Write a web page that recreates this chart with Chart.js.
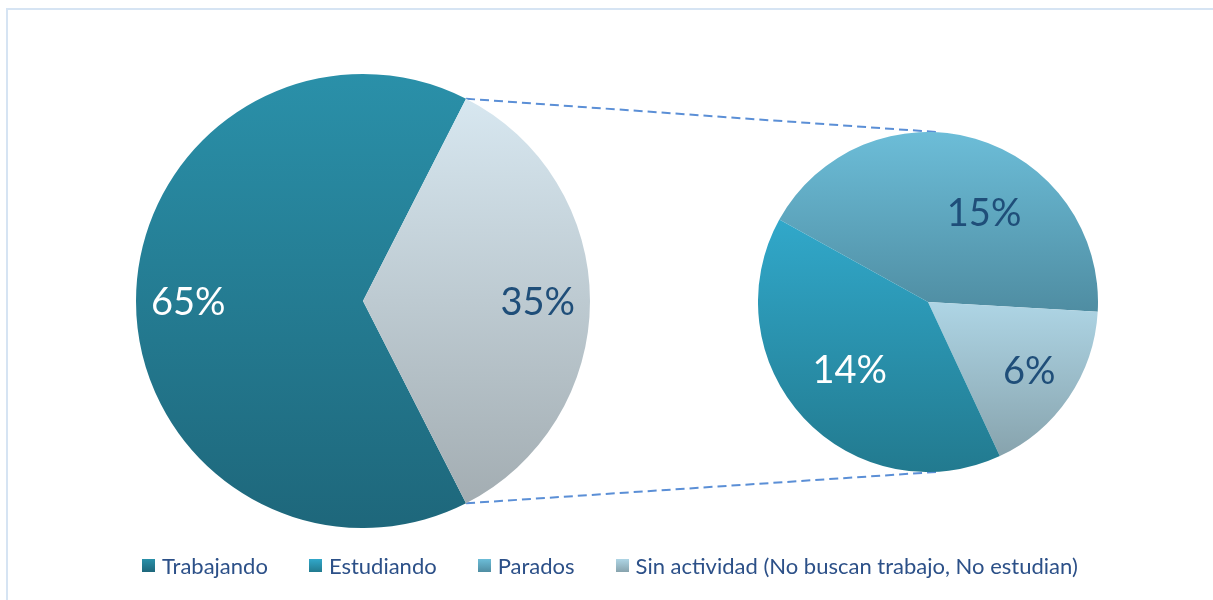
<!DOCTYPE html>
<html><head><meta charset="utf-8">
<script src="https://cdn.jsdelivr.net/npm/chart.js@4.4.0/dist/chart.umd.min.js"></script>
<style>
html,body{margin:0;padding:0;background:#fff;width:1213px;height:600px;overflow:hidden;font-family:Lato,"Open Sans",sans-serif;}
#frame{position:absolute;left:6px;top:8px;width:1240px;height:640px;border:2px solid #d6e4f3;box-sizing:border-box;}
#lines{position:absolute;left:0;top:0;}
.pie{position:absolute;}
#legend{position:absolute;top:552px;left:142px;display:flex;align-items:center;white-space:nowrap;}
.item{display:flex;align-items:center;margin-right:41px;font-size:22px;color:#2c5088;}
.sw{width:13px;height:13px;margin-right:7px;}
</style></head>
<body>
<div id="frame"></div>
<canvas id="lines" width="1213" height="600"></canvas>
<div class="pie" style="left:136px;top:74px;width:454px;height:454px;"><canvas id="main"></canvas></div>
<div class="pie" style="left:758px;top:132px;width:340px;height:340px;"><canvas id="sub"></canvas></div>
<div id="legend"></div>
<script>
// ---- data ----
const mainLabels = ['Trabajando', 'Resto'];
const mainValues = [65, 35];
const subLabels = ['Parados', 'Sin actividad (No buscan trabajo, No estudian)', 'Estudiando'];
const subValues = [15, 6, 14];
const legendLabels = ['Trabajando', 'Estudiando', 'Parados', 'Sin actividad (No buscan trabajo, No estudian)'];

// ---- styles ----
const grad = {
  'Trabajando': ['#2a90a9', '#1e677b'],
  'Resto': ['#d7e7f0', '#a3adb2'],
  'Parados': ['#6cbdd8', '#4f8da2'],
  'Estudiando': ['#31a8ca', '#227a8f'],
  'Sin actividad (No buscan trabajo, No estudian)': ['#aed5e5', '#87a3ad']
};

function sliceGradient(c, labels) {
  const name = labels[c.dataIndex];
  const cols = grad[name] || ['#888', '#666'];
  const chart = c.chart, area = chart.chartArea;
  if (c.type !== 'data' || !area) return cols[0];
  const data = c.dataset.data;
  const total = data.reduce((a, b) => a + b, 0);
  let start = (chart.options.rotation - 90) * Math.PI / 180;
  for (let i = 0; i < c.dataIndex; i++) start += data[i] / total * 2 * Math.PI;
  const end = start + data[c.dataIndex] / total * 2 * Math.PI;
  const cx = (area.left + area.right) / 2, cy = (area.top + area.bottom) / 2;
  const r = Math.min(area.width, area.height) / 2;
  const ys = [cy, cy + r * Math.sin(start), cy + r * Math.sin(end)];
  for (const a of [Math.PI / 2, 3 * Math.PI / 2]) {
    for (let k = -2; k <= 2; k++) { const b = a + 2 * Math.PI * k; if (b >= start && b <= end) ys.push(cy + r * Math.sin(b)); }
  }
  const y0 = Math.min(...ys), y1 = Math.max(...ys);
  const g = chart.ctx.createLinearGradient(0, y0, 0, y1);
  g.addColorStop(0, cols[0]); g.addColorStop(1, cols[1]);
  return g;
}

const labelPlugin = {
  id: 'pctLabels',
  afterDatasetsDraw(chart, args, opts) {
    const ctx = chart.ctx;
    const meta = chart.getDatasetMeta(0);
    const data = chart.data.datasets[0].data;
    ctx.save();
    ctx.font = opts.font;
    ctx.textAlign = 'center';
    ctx.textBaseline = 'middle';
    meta.data.forEach((arc, i) => {
      const mid = (arc.startAngle + arc.endAngle) / 2 + (opts.angleShift[i] || 0) * Math.PI / 180;
      const d = arc.outerRadius * opts.dist[i];
      ctx.fillStyle = opts.colors[i];
      ctx.fillText(data[i] + '%', arc.x + d * Math.cos(mid), arc.y + d * Math.sin(mid) + (opts.dy || 0));
    });
    ctx.restore();
  }
};

function pieConfig(labels, values, rotation, lab) {
  return {
    type: 'pie',
    data: { labels: labels, datasets: [{ data: values, borderWidth: 0,
      backgroundColor: (c) => sliceGradient(c, labels) }] },
    options: {
      responsive: true, maintainAspectRatio: false, animation: false,
      rotation: rotation,
      layout: { padding: 0 },
      plugins: { legend: { display: false }, tooltip: { enabled: false }, pctLabels: lab }
    },
    plugins: [labelPlugin]
  };
}

const mainChart = new Chart(document.getElementById('main'), pieConfig(mainLabels, mainValues, 153, {
  font: '38px Lato', dist: [0.77, 0.77], angleShift: [0, 0], colors: ['#ffffff', '#1f4e79'], dy: 2
}));
const subChart = new Chart(document.getElementById('sub'), pieConfig(subLabels, subValues, 299, {
  font: '38px Lato', dist: [0.62, 0.72, 0.61], angleShift: [16, 0, 2], colors: ['#1f4e79', '#1f4e79', '#ffffff'], dy: 1
}));

// connector lines computed from arc geometry
function drawConnectors() {
  const cv = document.getElementById('lines');
  const ctx = cv.getContext('2d');
  ctx.clearRect(0, 0, cv.width, cv.height);
  const mainBox = document.getElementById('main').getBoundingClientRect();
  const subBox = document.getElementById('sub').getBoundingClientRect();
  const restArc = mainChart.getDatasetMeta(0).data[1];
  const subArc = subChart.getDatasetMeta(0).data[0];
  const r1 = restArc.outerRadius;
  const p1 = [mainBox.left + restArc.x + r1 * Math.cos(restArc.startAngle), mainBox.top + restArc.y + r1 * Math.sin(restArc.startAngle)];
  const p2 = [mainBox.left + restArc.x + r1 * Math.cos(restArc.endAngle), mainBox.top + restArc.y + r1 * Math.sin(restArc.endAngle)];
  const r2 = subArc.outerRadius;
  const q1 = [subBox.left + subArc.x + 8, subBox.top + subArc.y - r2];
  const q2 = [subBox.left + subArc.x + 8, subBox.top + subArc.y + r2];
  ctx.strokeStyle = '#5b8fd6';
  ctx.lineWidth = 2;
  ctx.setLineDash([9, 5]);
  ctx.beginPath(); ctx.moveTo(p1[0], p1[1]); ctx.lineTo(q1[0], q1[1]); ctx.stroke();
  ctx.beginPath(); ctx.moveTo(p2[0], p2[1]); ctx.lineTo(q2[0], q2[1]); ctx.stroke();
}
drawConnectors();

// legend
const lg = document.getElementById('legend');
legendLabels.forEach(name => {
  const it = document.createElement('div'); it.className = 'item';
  const sw = document.createElement('div'); sw.className = 'sw';
  const cols = grad[name];
  sw.style.background = 'linear-gradient(' + cols[0] + ',' + cols[1] + ')';
  const tx = document.createElement('span'); tx.textContent = name;
  it.appendChild(sw); it.appendChild(tx); lg.appendChild(it);
});
</script>
</body></html>
